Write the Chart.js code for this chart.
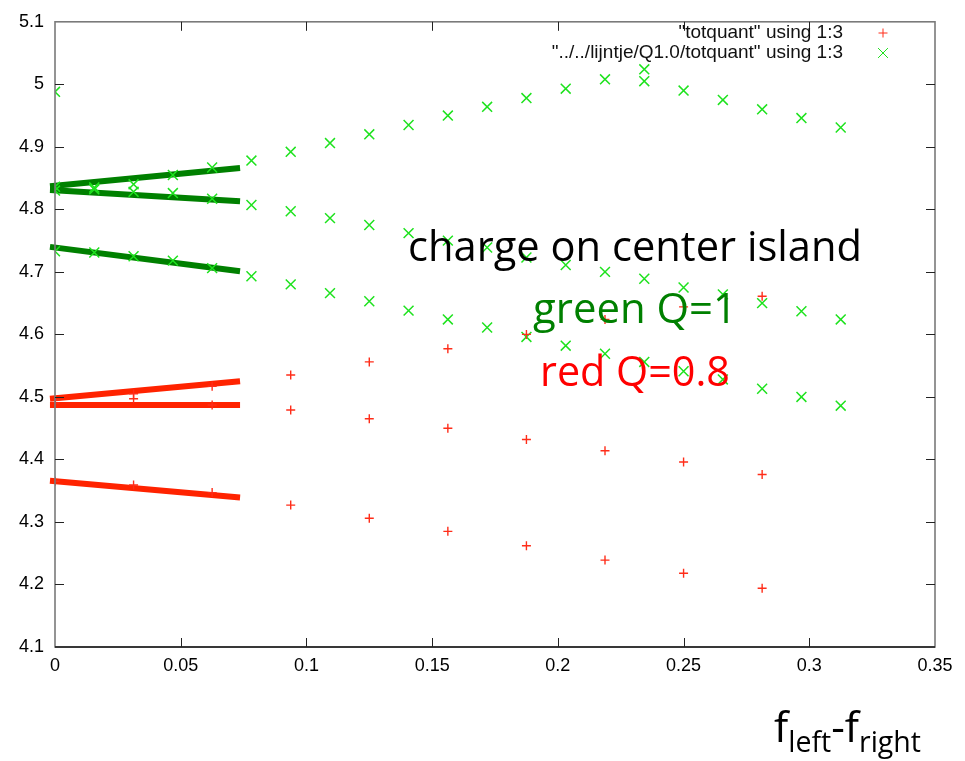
<!DOCTYPE html>
<html>
<head>
<meta charset="utf-8">
<style>
  html, body { margin: 0; padding: 0; background: #fff; }
  #wrap { width: 965px; height: 761px; }
</style>
<script src="https://cdn.jsdelivr.net/npm/chart.js@4.4.1/dist/chart.umd.min.js"></script>
</head>
<body>
<div id="wrap"><canvas id="plot" width="965" height="761"></canvas></div>
<script>
// tick values and labels
const xTickValues = [0, 0.05, 0.1, 0.15, 0.2, 0.25, 0.3, 0.35];
const xTickLabels = ['0', '0.05', '0.1', '0.15', '0.2', '0.25', '0.3', '0.35'];
const yTickValues = [4.1, 4.2, 4.3, 4.4, 4.5, 4.6, 4.7, 4.8, 4.9, 5.0, 5.1];
const yTickLabels = ['4.1', '4.2', '4.3', '4.4', '4.5', '4.6', '4.7', '4.8', '4.9', '5', '5.1'];

// Q1.0 data (green x), sampled every 1/64
const greenX = [0, 0.015625, 0.03125, 0.046875, 0.0625, 0.078125, 0.09375, 0.109375, 0.125, 0.140625,
  0.15625, 0.171875, 0.1875, 0.203125, 0.21875, 0.234375, 0.25, 0.265625, 0.28125, 0.296875, 0.3125];
const greenUpper = [4.836, 4.835, 4.840, 4.855, 4.867, 4.878, 4.892, 4.906, 4.920, 4.935,
  4.950, 4.964, 4.978, 4.993, 5.008, 5.024, 4.990, 4.975, 4.960, 4.946, 4.931];
const greenMiddle = [4.830, 4.832, 4.828, 4.826, 4.817, 4.807, 4.797, 4.786, 4.775, 4.762,
  4.750, 4.739, 4.723, 4.711, 4.700, 4.689, 4.675, 4.664, 4.650, 4.637, 4.624];
const greenLower = [4.733, 4.731, 4.725, 4.718, 4.706, 4.693, 4.680, 4.666, 4.653, 4.638,
  4.624, 4.611, 4.596, 4.582, 4.569, 4.556, 4.541, 4.528, 4.513, 4.500, 4.486];
const greenExtraX = [0, 0.234375];
const greenExtraY = [4.988, 5.005];

// totquant data (red +), sampled every 1/32
const redX = [0, 0.03125, 0.0625, 0.09375, 0.125, 0.15625, 0.1875, 0.21875, 0.25, 0.28125];
const redUpper = [4.495, 4.505, 4.517, 4.535, 4.556, 4.577, 4.600, 4.624, 4.644, 4.661];
const redMiddle = [4.490, 4.497, 4.487, 4.479, 4.465, 4.450, 4.432, 4.414, 4.396, 4.376];
const redLower = [4.365, 4.359, 4.347, 4.327, 4.306, 4.285, 4.262, 4.239, 4.218, 4.194];

// thick hand-drawn slope lines
const fitX = [-0.002, 0.0736];
const greenFitA = [4.837, 4.866];
const greenFitB = [4.831, 4.813];
const greenFitC = [4.740, 4.701];
const redFitA = [4.497, 4.525];
const redFitB = [4.487, 4.487];
const redFitC = [4.366, 4.339];

const legendLabels = ['"totquant" using 1:3', '"../../lijntje/Q1.0/totquant" using 1:3'];

const GREEN_PT = 'rgb(30,226,30)';
const RED_PT = 'rgb(255,45,25)';
const GREEN_LINE = 'rgb(0,128,0)';
const RED_LINE = 'rgb(255,35,0)';

function pts(xs, ys) {
  return xs.map((x, i) => ({ x: x, y: ys[i] }));
}

function fitLine(ys, color) {
  return {
    type: 'line',
    data: pts(fitX, ys),
    borderColor: color,
    borderWidth: 6,
    borderCapStyle: 'butt',
    pointRadius: 0,
    showLine: true,
    fill: false,
    clip: false
  };
}

const redPoints = pts(redX, redUpper).concat(pts(redX, redMiddle), pts(redX, redLower));
const greenPoints = pts(greenX, greenUpper).concat(pts(greenX, greenMiddle), pts(greenX, greenLower), pts(greenExtraX, greenExtraY));

const frame = {
  id: 'frame',
  afterDraw(chart) {
    const ctx = chart.ctx;
    const a = chart.chartArea;
    const xs = chart.scales.x, ys = chart.scales.y;
    ctx.save();

    // border
    ctx.lineWidth = 1.6;
    ctx.strokeStyle = '#7a7a7a';
    ctx.strokeRect(a.left, a.top, a.right - a.left, a.bottom - a.top);
    ctx.strokeStyle = '#1a1a1a';
    ctx.beginPath();
    ctx.moveTo(a.left, a.bottom);
    ctx.lineTo(a.right, a.bottom);
    ctx.stroke();

    // inward ticks on all sides
    ctx.strokeStyle = '#222';
    ctx.lineWidth = 1;
    const tl = 9;
    ctx.beginPath();
    yTickValues.slice(1, -1).forEach(v => {
      const py = Math.round(ys.getPixelForValue(v)) + 0.5;
      ctx.moveTo(a.left, py); ctx.lineTo(a.left + tl, py);
      ctx.moveTo(a.right, py); ctx.lineTo(a.right - tl, py);
    });
    xTickValues.slice(1, -1).forEach(v => {
      const px = Math.round(xs.getPixelForValue(v)) + 0.5;
      ctx.moveTo(px, a.bottom); ctx.lineTo(px, a.bottom - tl);
      ctx.moveTo(px, a.top); ctx.lineTo(px, a.top + tl);
    });
    ctx.stroke();

    // legend
    ctx.font = '19px "Liberation Sans", Arial, sans-serif';
    ctx.fillStyle = '#111';
    ctx.textAlign = 'right';
    ctx.textBaseline = 'middle';
    const legendStyles = [chart.data.datasets[0], chart.data.datasets[1]];
    legendLabels.forEach((t, i) => {
      const ly = 33 + i * 20;
      ctx.fillText(t, 843, ly);
      const ds = legendStyles[i];
      ctx.strokeStyle = ds.borderColor;
      ctx.fillStyle = ds.borderColor;
      Chart.helpers.drawPoint(ctx, { pointStyle: ds.pointStyle, radius: ds.pointRadius, borderWidth: ds.borderWidth, rotation: 0 }, 883, ly);
      ctx.fillStyle = '#111';
    });

    // annotation text
    const fam = '"Open Sans", "Noto Sans", sans-serif';
    function fitted(text, width, base, cx, by, color) {
      ctx.font = base + 'px ' + fam;
      const w = ctx.measureText(text).width;
      const size = base * width / w;
      ctx.font = size + 'px ' + fam;
      ctx.fillStyle = color;
      ctx.textAlign = 'center';
      ctx.textBaseline = 'alphabetic';
      ctx.fillText(text, cx, by);
    }
    fitted('charge on center island', 454, 40, 635, 261, '#000');
    fitted('green Q=1', 204, 40, 635, 323, 'rgb(0,128,0)');
    fitted('red Q=0.8', 190, 40, 635, 386, '#ff0000');

    // x axis title f_left - f_right
    const parts = [['f', 40, 0], ['left', 27, 10], ['-', 40, 0], ['f', 40, 0], ['right', 27, 10]];
    let total = 0;
    parts.forEach(p => { ctx.font = p[1] + 'px ' + fam; total += ctx.measureText(p[0]).width; });
    const k = 147 / total;
    let cx = 774;
    ctx.fillStyle = '#000';
    ctx.textAlign = 'left';
    parts.forEach(p => {
      ctx.font = (p[1] * k) + 'px ' + fam;
      ctx.fillText(p[0], cx, 742 + p[2]);
      cx += ctx.measureText(p[0]).width;
    });

    ctx.restore();
  }
};

const tickFont = { family: '"Liberation Sans", Arial, sans-serif', size: 18 };

new Chart(document.getElementById('plot').getContext('2d'), {
  type: 'scatter',
  data: {
    datasets: [
      {
        label: legendLabels[0],
        data: redPoints,
        pointStyle: 'cross',
        pointRadius: 4.5,
        borderWidth: 1.4,
        borderColor: RED_PT,
        backgroundColor: RED_PT
      },
      {
        label: legendLabels[1],
        data: greenPoints,
        pointStyle: 'crossRot',
        pointRadius: 7,
        borderWidth: 1.5,
        borderColor: GREEN_PT,
        backgroundColor: GREEN_PT
      },
      fitLine(greenFitA, GREEN_LINE),
      fitLine(greenFitB, GREEN_LINE),
      fitLine(greenFitC, GREEN_LINE),
      fitLine(redFitA, RED_LINE),
      fitLine(redFitB, RED_LINE),
      fitLine(redFitC, RED_LINE)
    ]
  },
  options: {
    responsive: false,
    animation: false,
    events: [],
    layout: { padding: { top: 15, right: 30, left: 0, bottom: 0 } },
    plugins: { legend: { display: false }, tooltip: { enabled: false } },
    scales: {
      x: {
        type: 'linear',
        min: 0,
        max: 0.35,
        grid: { display: false, drawTicks: false },
        border: { display: false },
        afterBuildTicks: s => { s.ticks = xTickValues.map(v => ({ value: v })); },
        afterFit: s => { s.height = 114; },
        ticks: {
          font: tickFont,
          color: '#000',
          padding: 8,
          maxRotation: 0,
          autoSkip: false,
          callback: (v, i) => xTickLabels[i]
        }
      },
      y: {
        type: 'linear',
        min: 4.1,
        max: 5.1,
        grid: { display: false, drawTicks: false },
        border: { display: false },
        afterBuildTicks: s => { s.ticks = yTickValues.map(v => ({ value: v })); },
        afterFit: s => { s.width = 55; },
        ticks: {
          font: tickFont,
          color: '#000',
          padding: 11,
          autoSkip: false,
          callback: (v, i) => yTickLabels[i]
        }
      }
    }
  },
  plugins: [frame]
});
</script>
</body>
</html>
